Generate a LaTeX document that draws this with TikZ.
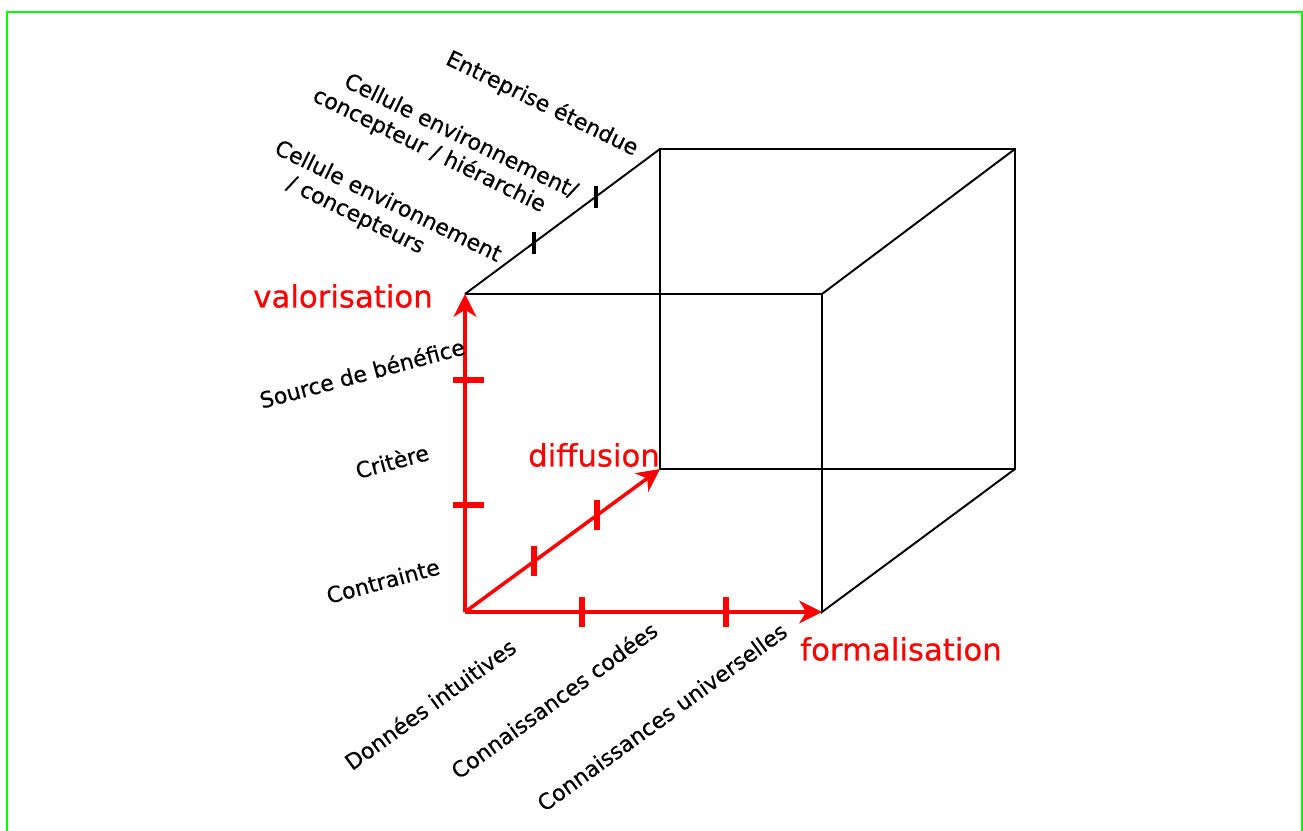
\documentclass[tikz,border=0pt]{standalone}
\usepackage{fontspec}
\setmainfont{DejaVu Sans}
\newfontfamily\epais[FakeBold=0.5]{DejaVu Sans}
\usetikzlibrary{arrows.meta,calc}

\begin{document}
\begin{tikzpicture}[x=0.02cm,y=-0.02cm,
    axe/.style={red, line width=2pt, -{Stealth[length=13pt,width=13pt,inset=4pt]}},
    arete/.style={black, line width=1.1pt},
    trait/.style={red, line width=3.4pt},
    graduation/.style={black, line width=1.8pt},
    titre/.style={red, font=\epais\fontsize{17.5}{20}\selectfont},
    etiquette/.style={font=\epais\fontsize{12.5}{15}\selectfont}]
    \useasboundingbox (0,0) rectangle (1303,831) ;
    \draw [green, line width=1.5pt] (7,12) rectangle (1302,850) ;
    % coins du cube
    \coordinate (O) at (465,612) ;
    \coordinate (F) at (822,612) ;
    \coordinate (V) at (465,294) ;
    \coordinate (FV) at (822,294) ;
    \coordinate (D) at (660,469) ;
    \coordinate (DF) at (1015,469) ;
    \coordinate (DV) at (660,149) ;
    \coordinate (DFV) at (1015,149) ;
    \draw [arete] (V) -- (FV) -- (F) -- (DF) -- (DFV) -- (DV) -- (D) -- (DF) ;
    \draw [arete] (V) -- (DV) ;
    \draw [arete] (FV) -- (DFV) ;
    % axes
    \draw [axe] (O) -- (V) ;
    \draw [axe] (O) -- (F) ;
    \draw [axe] (O) -- (D) ;
    \foreach \t in {0.336,0.73} { \draw [trait] ($(O)!\t!(V)$) ++(-12,0) -- ++(31,0) ; }
    \foreach \t in {0.328,0.731} { \draw [trait] ($(O)!\t!(F)$) ++(0,-15) -- ++(0,30) ; }
    \foreach \t in {0.354,0.675} { \draw [trait] ($(O)!\t!(D)$) ++(0,-15) -- ++(0,30) ; }
    \foreach \t in {0.354,0.672} { \draw [graduation] ($(V)!\t!(DV)$) ++(0,-11) -- ++(0,22) ; }
    % titres des axes
    \node [titre] (valorisation) at (343,296) {valorisation} ;
    \node [titre] (diffusion) at (594,455) {diffusion} ;
    \node [titre] (formalisation) at (901,649) {formalisation} ;
    % graduations
    \node [etiquette, rotate=15] (source) at (362,373) {Source de bénéfice} ;
    \node [etiquette, rotate=15] (critere) at (392,461) {Critère} ;
    \node [etiquette, rotate=15] (contrainte) at (383,581) {Contrainte} ;
    \node [etiquette, rotate=36] (donnees) at (430,704) {Données intuitives} ;
    \node [etiquette, rotate=36] (codees) at (554,700) {Connaissances codées} ;
    \node [etiquette, rotate=36] (universelles) at (662,717) {Connaissances universelles} ;
    \node [etiquette, rotate=-26] (entreprise) at (542,104) {Entreprise étendue} ;
    \node [etiquette, rotate=-26, align=left] (hierarchie) at (445,144)
      {\hspace*{1em}Cellule environnement/\\concepteur / hiérarchie} ;
    \node [etiquette, rotate=-26, align=left] (concepteurs) at (382,214)
      {Cellule environnement\\\hspace*{1.2em}/ concepteurs} ;
\end{tikzpicture}
\end{document}
